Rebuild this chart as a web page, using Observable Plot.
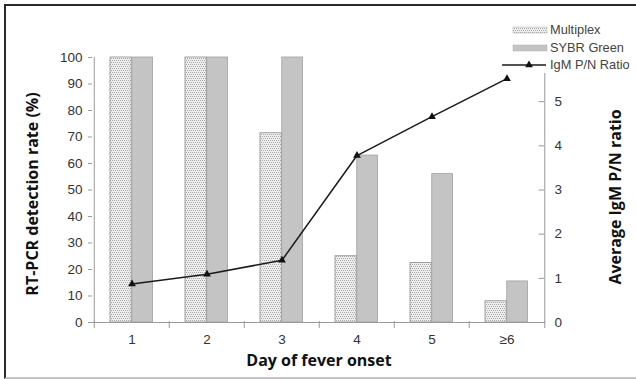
<!DOCTYPE html>
<html>
<head>
<meta charset="utf-8">
<script src="https://cdn.jsdelivr.net/npm/d3@7"></script>
<script src="https://cdn.jsdelivr.net/npm/@observablehq/plot@0.6"></script>
<style>
  html, body { margin: 0; padding: 0; background: #fff; }
  #wrap { position: relative; width: 636px; height: 379px; overflow: hidden; }
  #frame { position: absolute; left: 4px; top: 4px; width: 640px; height: 371px;
           border-left: 2px solid #2a2a2a; border-top: 2px solid #2a2a2a; border-bottom: 2px solid #c4c4c4;
           pointer-events: none; }
</style>
</head>
<body>
<div id="wrap"><div id="frame"></div></div>
<script>
const days = ["1", "2", "3", "4", "5", "≥6"];
const multiplex = [100, 100, 71.4, 25, 22.5, 8];
const sybr = [100, 100, 100, 63, 56, 15.5];
const igm = [0.87, 1.09, 1.41, 3.78, 4.66, 5.52];
const leftTicks = [0, 10, 20, 30, 40, 50, 60, 70, 80, 90, 100];
const rightTicks = [0, 1, 2, 3, 4, 5];
const rightMax = 6;
const seriesNames = ["Multiplex", "SYBR Green", "IgM P/N Ratio"];
const xTitle = "Day of fever onset";
const yTitle = "RT-PCR detection rate (%)";
const y2Title = "Average IgM P/N ratio";

const data = days.map((d, i) => ({
  day: d, multiplex: multiplex[i], sybr: sybr[i], igm: igm[i], igmScaled: igm[i] * 100 / rightMax
}));

const W = 636, H = 379, mL = 92, mR = 91, mT = 57, mB = 57;
const half = (W - mL - mR) / days.length / 2;
const tickFont = "'Liberation Sans', Arial, sans-serif";
const titleFont = "'Open Sans', Lato, sans-serif";

const plot = Plot.plot({
  width: W, height: H,
  marginLeft: mL, marginRight: mR, marginTop: mT, marginBottom: mB,
  style: { fontFamily: tickFont, fontSize: "13.5px", color: "#333", background: "transparent" },
  x: { type: "band", domain: days, padding: 0, axis: null },
  y: { domain: [0, 100], axis: null },
  marks: [
    Plot.barY(data, { x: "day", y: "multiplex", insetLeft: 16, insetRight: half, fill: "#e0e0e0", stroke: "#8c8c8c", strokeWidth: 0.8, ariaDescription: "multiplex" }),
    Plot.barY(data, { x: "day", y: "sybr", insetLeft: half, insetRight: 16.5, fill: "#c4c4c4", stroke: "#a0a0a0", strokeWidth: 0.8 }),
    // axis lines
    Plot.ruleY([0], { stroke: "#9a9a9a", strokeWidth: 1, insetLeft: -4 }),
    Plot.ruleX(days.slice(0, 1), { x: d => d, dx: -half, stroke: "#9a9a9a", strokeWidth: 1 }),
    Plot.ruleX(days.slice(-1), { x: d => d, dx: half, stroke: "#9a9a9a", strokeWidth: 1, insetTop: 16 }),
    // x boundary ticks
    Plot.ruleX(days, { x: d => d, dx: -half, stroke: "#9a9a9a", insetTop: H - mT - mB - 1, insetBottom: -6 }),
    Plot.ruleX(days.slice(-1), { x: d => d, dx: half, stroke: "#9a9a9a", insetTop: H - mT - mB - 1, insetBottom: -6 }),
    // right axis inward ticks
    Plot.tickY(rightTicks.map(v => v * 100 / rightMax), { y: d => d, x: () => "≥6", insetLeft: 2 * half - 6, stroke: "#9a9a9a" }),
    Plot.axisY(leftTicks, { anchor: "left", tickSize: 4, tickPadding: 6, stroke: "#9a9a9a", fill: "#333", fontSize: 13.5, label: null }),
    Plot.axisY(rightTicks.map(v => v * 100 / rightMax), { anchor: "right", tickSize: 0, tickPadding: 9, fill: "#333", fontSize: 13.5, label: null, tickFormat: d => Math.round(d * rightMax / 100) }),
    Plot.axisX({ tickSize: 0, tickPadding: 12, fill: "#333", fontSize: 13.5, label: null }),
    // IgM line
    Plot.line(data, { x: "day", y: "igmScaled", stroke: "#1a1a1a", strokeWidth: 1.5 }),
    Plot.dot(data, { x: "day", y: "igmScaled", symbol: "triangle", r: 2.9, fill: "#111", stroke: "none" }),
    // titles
    Plot.text([yTitle], { frameAnchor: "left", textAnchor: "middle", lineAnchor: "middle", dx: -60, dy: 4, rotate: -90, fontFamily: titleFont, fontWeight: 700, fontSize: 16, fill: "#111" }),
    Plot.text([y2Title], { frameAnchor: "right", textAnchor: "middle", lineAnchor: "middle", dx: 70, dy: 7, rotate: -90, fontFamily: titleFont, fontWeight: 700, fontSize: 16, fill: "#111" }),
    Plot.text([xTitle], { frameAnchor: "bottom", textAnchor: "middle", lineAnchor: "middle", dy: 38, fontFamily: titleFont, fontWeight: 700, fontSize: 16, fill: "#111" })
  ]
});

document.getElementById("wrap").prepend(plot);

// pattern for Multiplex bars
const svg = d3.select(plot);
const defs = svg.insert("defs", ":first-child");
const pat = defs.append("pattern").attr("id", "mpat").attr("patternUnits", "userSpaceOnUse")
  .attr("width", 4).attr("height", 4);
pat.append("rect").attr("width", 4).attr("height", 4).attr("fill", "#eeeeee");
[[0, 0], [2, 0], [1, 2], [3, 2]].forEach(([x, y]) =>
  pat.append("rect").attr("x", x).attr("y", y).attr("width", 1).attr("height", 1).attr("fill", "#a9a9a9"));
let mgroup = svg.selectAll("g[aria-description='multiplex']");
if (mgroup.empty()) mgroup = svg.selectAll("g[aria-label='bar']").filter((d, i) => i === 0);
mgroup.attr("fill", "url(#mpat)").selectAll("rect").attr("fill", "url(#mpat)");

// legend
const lg = svg.append("g").attr("font-family", tickFont).attr("font-size", 12.8).attr("fill", "#444").attr("text-anchor", "start");
const lx = 513, ly = [30, 48, 65];
lg.append("rect").attr("x", lx).attr("y", ly[0] - 3).attr("width", 34).attr("height", 6).attr("fill", "url(#mpat)").attr("stroke", "#aaa").attr("stroke-width", 0.5);
lg.append("rect").attr("x", lx).attr("y", ly[1] - 3).attr("width", 34).attr("height", 6).attr("fill", "#c4c4c4").attr("stroke", "#aaa").attr("stroke-width", 0.5);
lg.append("line").attr("x1", 502).attr("x2", 546).attr("y1", ly[2]).attr("y2", ly[2]).attr("stroke", "#1a1a1a").attr("stroke-width", 1.5);
lg.append("path").attr("transform", `translate(529,${ly[2]})`).attr("d", d3.symbol(d3.symbolTriangle, 2.9 * 2.9 * Math.PI)()).attr("fill", "#111");
seriesNames.forEach((s, i) => {
  lg.append("text").attr("x", 550).attr("y", ly[i]).attr("dy", "0.35em").attr("text-anchor", "start").text(s);
});
</script>
</body>
</html>
